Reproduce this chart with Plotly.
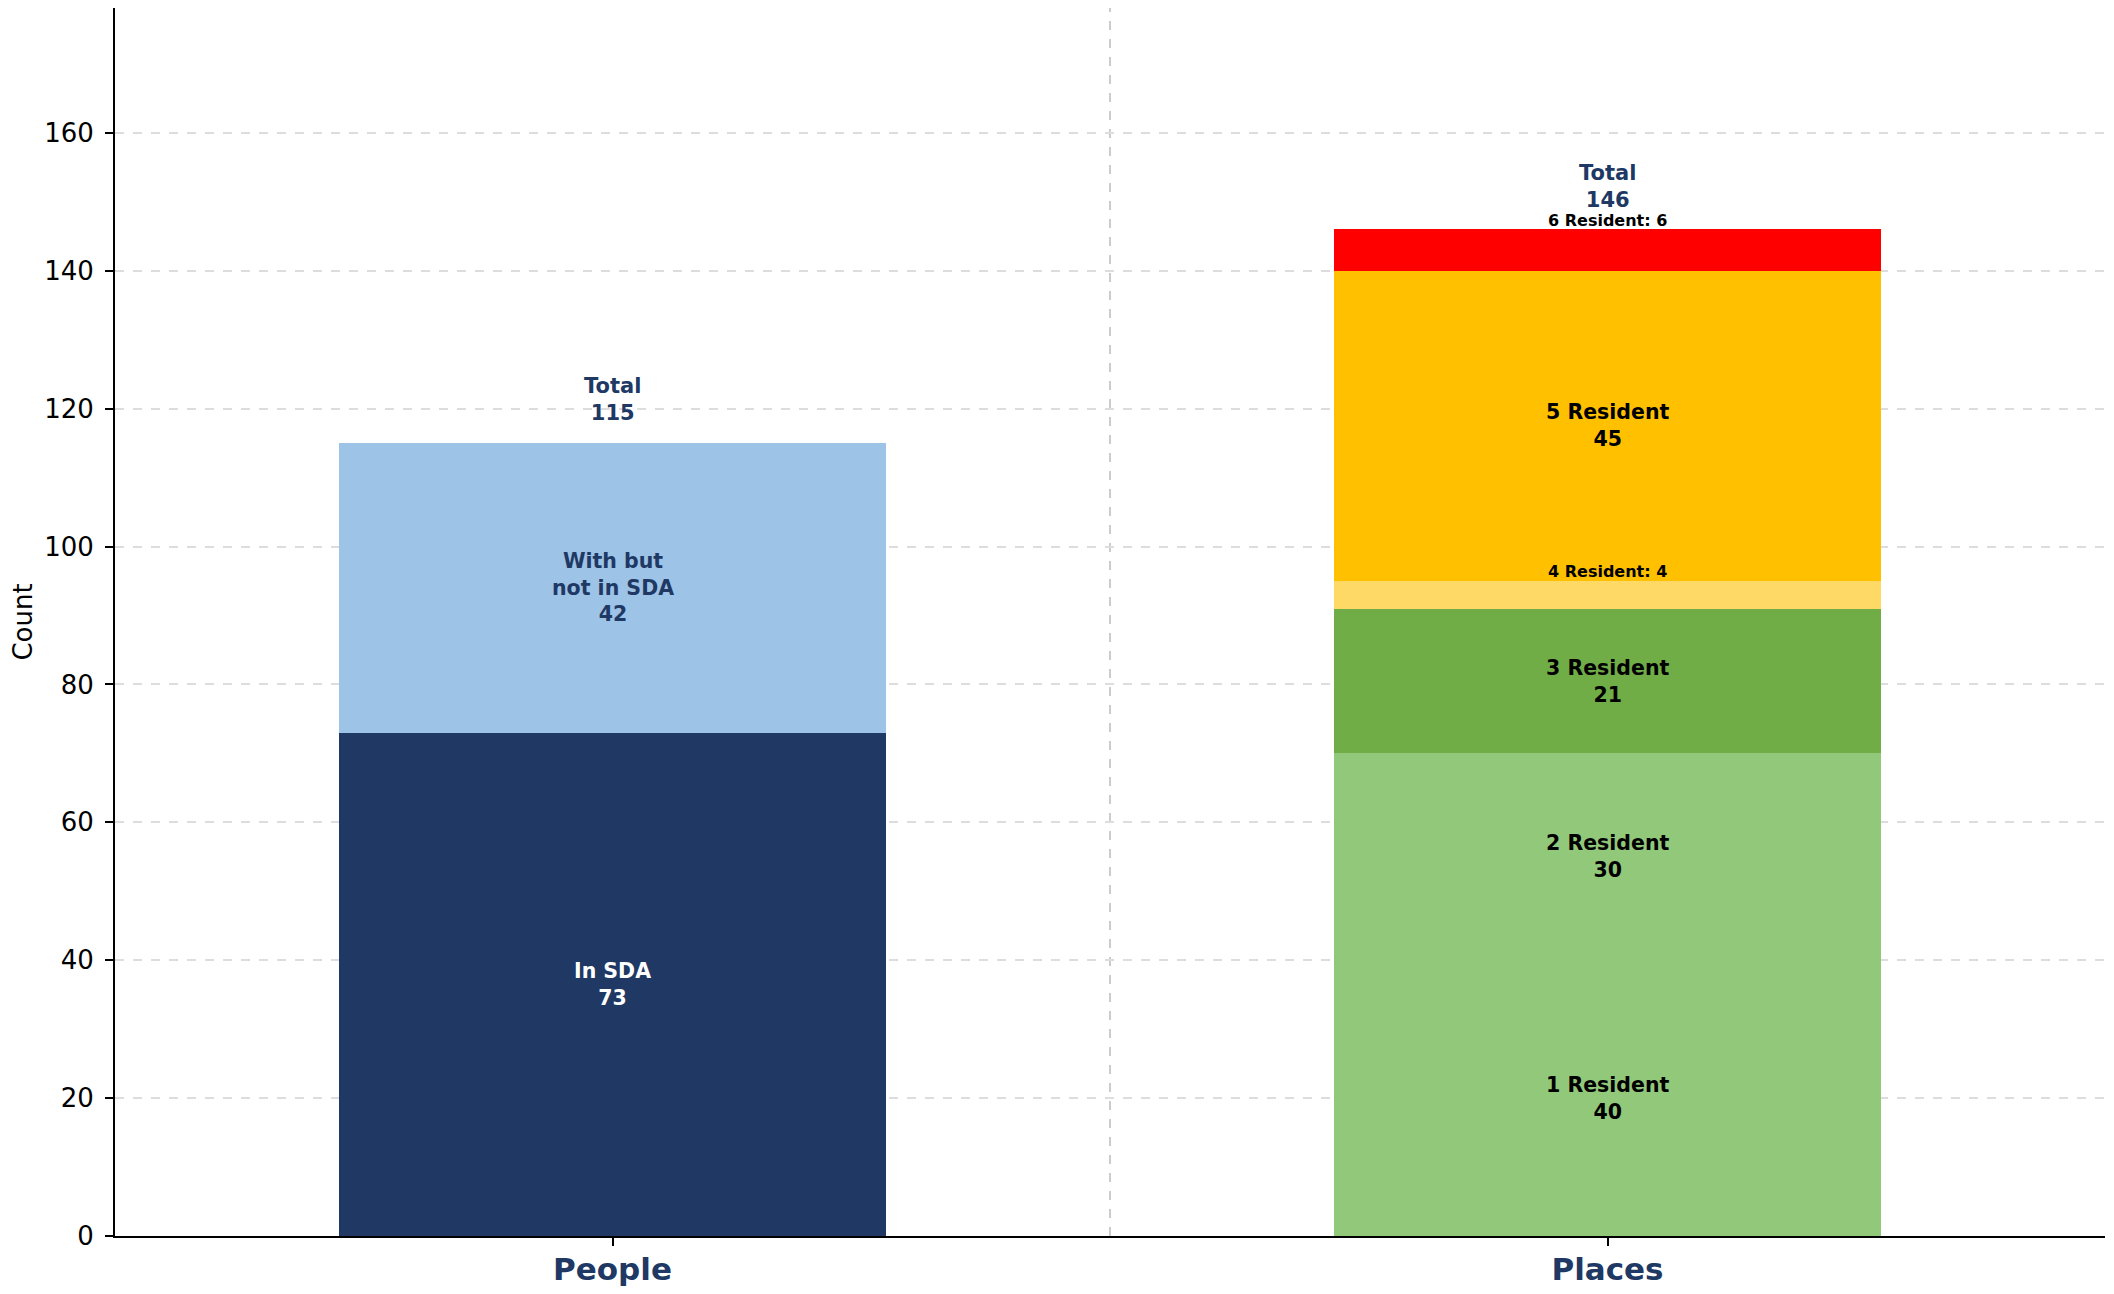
import plotly.graph_objects as go

# ---- data ----
categories = ["People", "Places"]
people_labels = ["In SDA", "With but<br>not in SDA"]
people_values = [73, 42]
people_colors = ["#203864", "#9DC3E6"]
people_text_colors = ["#FFFFFF", "#203864"]

places_labels = ["1 Resident", "2 Resident", "3 Resident", "4 Resident", "5 Resident", "6 Resident"]
places_values = [40, 30, 21, 4, 45, 6]
places_colors = ["#92C87A", "#92C87A", "#70AD47", "#FFD966", "#FFC000", "#FF0000"]

y_ticks = [0, 20, 40, 60, 80, 100, 120, 140, 160]

NAVY = "#203864"
FONT = "DejaVu Sans"
BAR_W = 0.55
SMALL_THRESHOLD = 8

fig = go.Figure()
annotations = []

def add_stack(cat, labels, values, colors, text_colors):
    base = 0
    for lab, v, c, tc in zip(labels, values, colors, text_colors):
        fig.add_trace(go.Bar(x=[cat], y=[v], name=lab.replace("<br>", " "),
                             marker=dict(color=c, line=dict(width=0)),
                             width=BAR_W, showlegend=False, hoverinfo="skip"))
        if v < SMALL_THRESHOLD:
            annotations.append(dict(x=cat, y=base + v - 0.3, xref="x", yref="y",
                                    text=f"<b>{lab}: {v}</b>", showarrow=False,
                                    yanchor="bottom", font=dict(family=FONT, size=16, color="#000000")))
        else:
            annotations.append(dict(x=cat, y=base + v / 2, xref="x", yref="y",
                                    text=f"<b>{lab}<br>{v}</b>", showarrow=False,
                                    yanchor="middle", font=dict(family=FONT, size=20.5, color=tc)))
        base += v
    annotations.append(dict(x=cat, y=base + 2.3, xref="x", yref="y",
                            text=f"<b>Total<br>{base}</b>", showarrow=False,
                            yanchor="bottom", font=dict(family=FONT, size=21, color=NAVY)))
    return base

t1 = add_stack(categories[0], people_labels, people_values, people_colors, people_text_colors)
t2 = add_stack(categories[1], places_labels, places_values, places_colors, ["#000000"] * len(places_values))
ymax = max(t1, t2) * 1.22

fig.update_layout(
    barmode="stack",
    width=2098, height=1278,
    margin=dict(l=107, r=1, t=0, b=50),
    plot_bgcolor="white", paper_bgcolor="white",
    font=dict(family=FONT, size=26, color="#000000"),
    annotations=annotations,
    shapes=[dict(type="line", xref="x", yref="paper", x0=0.5, x1=0.5, y0=0, y1=1,
                 line=dict(color="#CCCCCC", width=2, dash="dash"), layer="below")],
    bargap=0,
)
fig.update_xaxes(
    type="category", categoryorder="array", categoryarray=categories,
    range=[-0.5, 1.5], showline=True, linecolor="#000000", linewidth=2,
    ticks="outside", ticklen=8, tickwidth=1.5, tickcolor="#000000",
    tickfont=dict(family=FONT, size=31, color=NAVY, weight="bold"),
    ticklabelstandoff=-3,
    showgrid=False, zeroline=False,
)
fig.update_yaxes(
    range=[0, ymax], tickvals=y_ticks, showline=True, linecolor="#000000", linewidth=2,
    ticks="outside", ticklen=8, tickwidth=1.5, tickcolor="#000000",
    tickfont=dict(family=FONT, size=26, color="#000000"),
    ticklabelstandoff=6,
    showgrid=True, gridcolor="#DDDDDD", gridwidth=1.5, griddash="dash",
    zeroline=False,
    title=dict(text="Count", font=dict(family=FONT, size=26), standoff=12),
)

fig.write_html("out.html")
